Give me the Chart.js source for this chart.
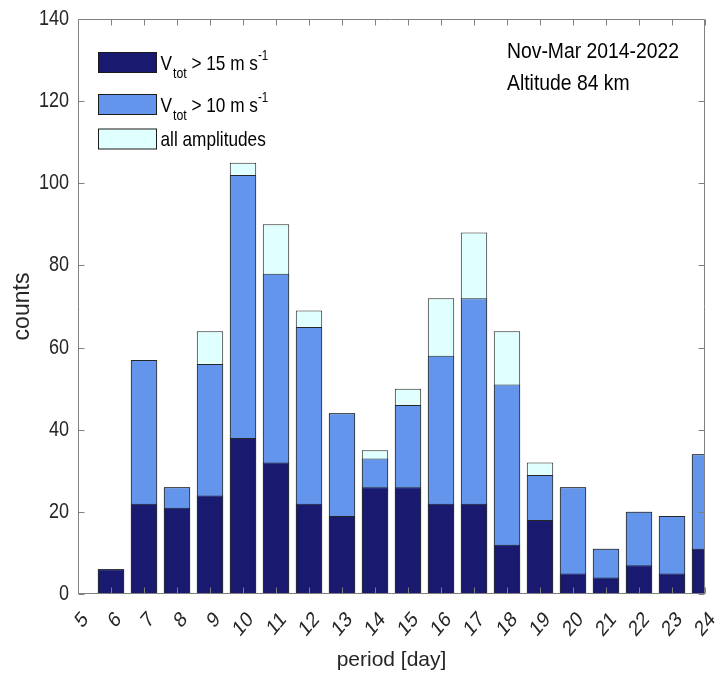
<!DOCTYPE html>
<html>
<head>
<meta charset="utf-8">
<script src="https://cdn.jsdelivr.net/npm/chart.js@4/dist/chart.umd.min.js"></script>
<style>
  html, body { margin: 0; padding: 0; background: #ffffff; }
  #wrap { width: 718px; height: 673px; position: relative; }
</style>
</head>
<body>
<div id="wrap"><canvas id="chart"></canvas></div>
<script>
// Oscillation periods (days) and number of events per period bin
const periods = [6, 7, 8, 9, 10, 11, 12, 13, 14, 15, 16, 17, 18, 19, 20, 21, 22, 23, 24];
const countsOver15 = [6, 22, 21, 24, 38, 32, 22, 19, 26, 26, 22, 22, 12, 18, 5, 4, 7, 5, 11];
const countsOver10 = [6, 57, 26, 56, 102, 78, 65, 44, 33, 46, 58, 72, 51, 29, 26, 11, 20, 19, 34];
const countsAll    = [6, 57, 26, 64, 105, 90, 69, 44, 35, 50, 72, 88, 64, 32, 26, 11, 20, 19, 34];
const xTicks = [5, 24];            // axis range, one tick per day
const yTicks = [0, 140, 20];       // min, max, step
const seriesNames = ['V_tot > 15 m s^-1', 'V_tot > 10 m s^-1', 'all amplitudes'];
const infoLines = ['Nov-Mar 2014-2022', 'Altitude 84 km'];

const COLORS = ['#191970', '#6495ED', '#E0FFFF'];
const FONT = "'Liberation Sans', Arial, Helvetica, sans-serif";
const SQUEEZE = 0.82;              // condensed lettering for ticks, legend and notes
const AXIS_GRAY = '#808080';
const TEXT = '#262626';

const pts = arr => periods.map((p, i) => ({ x: p, y: arr[i] }));

function barSet(label, data, color) {
  return {
    label, data: pts(data),
    backgroundColor: color,
    borderColor: '#262626',
    borderWidth: 1,
    borderSkipped: false,
    grouped: false,
    barPercentage: 0.8,
    categoryPercentage: 1.0
  };
}

// Condensed text: draws at (x, y) and returns the drawn width
function condensed(ctx, text, x, y, size, opts = {}) {
  const sq = opts.squeeze || SQUEEZE;
  ctx.save();
  ctx.font = `${size}px ${FONT}`;
  ctx.textAlign = opts.align || 'left';
  ctx.textBaseline = opts.baseline || 'alphabetic';
  ctx.translate(x, y);
  ctx.scale(sq, 1);
  if (opts.rotate) ctx.rotate(opts.rotate);
  ctx.fillText(text, 0, 0);
  const w = ctx.measureText(text).width * sq;
  ctx.restore();
  return w;
}

// Box frame with inward ticks on all four sides, plus tick labels
const framePlugin = {
  id: 'frame',
  afterDraw(chart) {
    const { ctx, chartArea: a, scales: { x, y } } = chart;
    const L = Math.round(a.left) + 0.5, R = Math.round(a.right) - 0.5;
    const T = Math.round(a.top) + 0.5, B = Math.round(a.bottom) - 0.5;
    const tl = 6;
    ctx.save();
    ctx.strokeStyle = AXIS_GRAY;
    ctx.lineWidth = 1;
    ctx.beginPath();
    ctx.rect(L, T, R - L, B - T);
    x.ticks.forEach(t => {
      const px = Math.round(x.getPixelForValue(t.value)) + 0.5;
      ctx.moveTo(px, B); ctx.lineTo(px, B - tl);
      ctx.moveTo(px, T); ctx.lineTo(px, T + tl);
    });
    y.ticks.forEach(t => {
      const py = Math.round(y.getPixelForValue(t.value)) + 0.5;
      ctx.moveTo(L, py); ctx.lineTo(L + tl, py);
      ctx.moveTo(R, py); ctx.lineTo(R - tl, py);
    });
    ctx.stroke();

    ctx.fillStyle = TEXT;
    y.ticks.forEach(t => {
      const py = y.getPixelForValue(t.value);
      condensed(ctx, String(t.value), a.left - 9, py, 22, { align: 'right', baseline: 'middle' });
    });
    x.ticks.forEach(t => {
      const px = x.getPixelForValue(t.value);
      condensed(ctx, String(t.value), px + 7.5, a.bottom + 22, 22,
        { align: 'right', baseline: 'middle', rotate: -Math.PI / 4 });
    });
    ctx.restore();
  }
};

// Legend label with subscript/superscript parts: 'V_tot > 15 m s^-1'
function drawRichLabel(ctx, text, x, baseline) {
  const main = 21, sub = 15, sup = 14;
  const m = text.match(/^(.*?)_(\S+)(.*?)\^(\S+)$/);
  if (!m) { condensed(ctx, text, x, baseline, main); return; }
  let cx = x;
  cx += condensed(ctx, m[1], cx, baseline, main) + 1;
  cx += condensed(ctx, m[2], cx, baseline + 8, sub);
  cx += condensed(ctx, m[3], cx, baseline, main);
  condensed(ctx, m[4], cx, baseline - 10, sup);
}

// In-plot legend and info text
const legendPlugin = {
  id: 'innerLegend',
  afterDraw(chart) {
    const { ctx, chartArea: a } = chart;
    const boxX = Math.round(a.left) + 20.5, boxW = 58, boxH = 20;
    const rowTops = [52, 94, 128.5];
    const baselines = [70, 112, 145.5];
    ctx.save();
    seriesNames.forEach((name, i) => {
      ctx.fillStyle = COLORS[i];
      ctx.fillRect(boxX, rowTops[i] + 0.5, boxW, boxH);
      ctx.strokeStyle = '#1a1a1a';
      ctx.lineWidth = 1;
      ctx.strokeRect(boxX, rowTops[i] + 0.5, boxW, boxH);
      ctx.fillStyle = '#000000';
      drawRichLabel(ctx, name, boxX + boxW + 4, baselines[i]);
    });
    ctx.fillStyle = '#000000';
    condensed(ctx, infoLines[0], 507, 58, 22.5, { squeeze: 0.86 });
    condensed(ctx, infoLines[1], 507, 90, 22.5, { squeeze: 0.86 });
    ctx.restore();
  }
};

new Chart(document.getElementById('chart'), {
  type: 'bar',
  data: {
    datasets: [
      barSet(seriesNames[0], countsOver15, COLORS[0]),
      barSet(seriesNames[1], countsOver10, COLORS[1]),
      barSet(seriesNames[2], countsAll, COLORS[2])
    ]
  },
  options: {
    responsive: true,
    maintainAspectRatio: false,
    animation: false,
    layout: { padding: { left: 0, right: 13, top: 19, bottom: 0 } },
    plugins: { legend: { display: false }, tooltip: { enabled: false } },
    scales: {
      x: {
        type: 'linear',
        offset: false,
        min: xTicks[0], max: xTicks[1],
        grid: { display: false, drawTicks: false },
        border: { display: false },
        ticks: { stepSize: 1, autoSkip: false, display: false },
        title: {
          display: true, text: 'period [day]', color: TEXT,
          font: { family: FONT, size: 21 },
          padding: { top: 0, bottom: 0 }
        },
        afterFit(scale) { scale.height = 79; scale.paddingLeft = 0; scale.paddingRight = 0; }
      },
      y: {
        min: yTicks[0], max: yTicks[1],
        grid: { display: false, drawTicks: false },
        border: { display: false },
        ticks: { stepSize: yTicks[2], display: false },
        title: {
          display: true, text: 'counts', color: TEXT,
          font: { family: FONT, size: 23 },
          padding: { top: 9, bottom: 0 }
        },
        afterFit(scale) { scale.width = 78; }
      }
    }
  },
  plugins: [framePlugin, legendPlugin]
});
</script>
</body>
</html>
